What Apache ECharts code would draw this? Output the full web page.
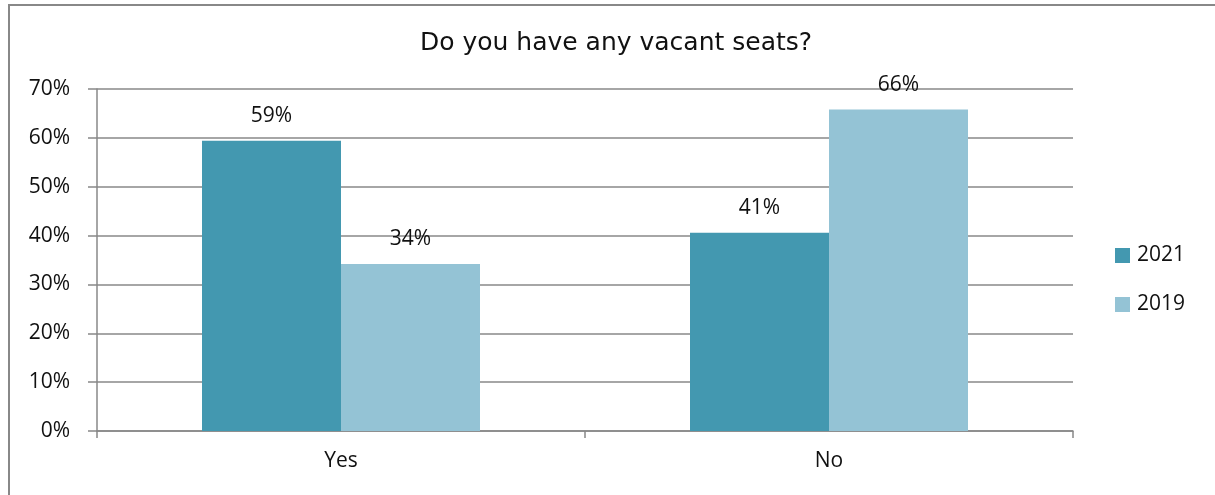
<!DOCTYPE html>
<html>
<head>
<meta charset="utf-8">
<script src="https://cdn.jsdelivr.net/npm/echarts@6/dist/echarts.min.js"></script>
<style>
  html, body { margin: 0; padding: 0; background: #fff; }
  #frame {
    position: absolute; left: 8px; top: 4px; width: 1215px; height: 500px;
    border-left: 2px solid #888; border-top: 2px solid #888;
  }
  #chart { position: absolute; left: 0; top: 0; width: 1215px; height: 495px; }
</style>
</head>
<body>
<div id="frame"></div>
<div id="chart"></div>
<script>
// chart data
var categories = ["Yes", "No"];
var values2021 = [59.4, 40.6];
var values2019 = [34.2, 65.8];
var yTicks = [0, 10, 20, 30, 40, 50, 60, 70];

var myChart = echarts.init(document.getElementById("chart"));
var font = "'Open Sans', 'Noto Sans', sans-serif";
var labelFmt = function (p) {
  return Math.round(p.value) + "%";
};

var option = {
  animation: false,
  textStyle: { fontFamily: font },
  title: {
    text: "Do you have any vacant seats?",
    left: 611,
    textAlign: "center",
    top: 26,
    textStyle: { fontSize: 25, fontWeight: "normal", color: "#111", fontFamily: "'DejaVu Sans', sans-serif" }
  },
  legend: {
    orient: "vertical",
    left: 1115,
    top: 245,
    padding: 0,
    itemWidth: 15,
    itemHeight: 15,
    itemGap: 28,
    icon: "rect",
    textStyle: { fontSize: 21, color: "#111", fontFamily: font, padding: [0, 0, 0, 2] },
    data: ["2021", "2019"]
  },
  grid: { left: 97, right: 142, top: 89, bottom: 64 },
  xAxis: {
    type: "category",
    data: categories,
    axisLine: { lineStyle: { color: "#888", width: 1.5 } },
    axisTick: { show: true, length: 7, lineStyle: { color: "#888", width: 1.5 } },
    axisLabel: { fontSize: 21, color: "#111", margin: 20, fontFamily: font }
  },
  yAxis: {
    type: "value",
    min: yTicks[0],
    max: yTicks[yTicks.length - 1],
    interval: 10,
    axisLine: { show: true, lineStyle: { color: "#888", width: 1.5 } },
    axisTick: { show: true, inside: false, length: 9, lineStyle: { color: "#888", width: 1.5 } },
    axisLabel: {
      fontSize: 21, color: "#111", margin: 27, fontFamily: font,
      formatter: function (v) { return v + "%"; }
    },
    splitLine: { lineStyle: { color: "#888", width: 1.5 } }
  },
  series: [
    {
      name: "2021",
      type: "bar",
      data: values2021,
      barWidth: 139,
      barGap: "0%",
      itemStyle: { color: "#4398b0" },
      label: { show: true, position: "top", distance: 14, fontSize: 21, color: "#111", formatter: labelFmt }
    },
    {
      name: "2019",
      type: "bar",
      data: values2019,
      barWidth: 139,
      barGap: "0%",
      itemStyle: { color: "#94c3d5" },
      label: { show: true, position: "top", distance: 14, fontSize: 21, color: "#111", formatter: labelFmt }
    }
  ]
};

myChart.setOption(option);
</script>
</body>
</html>
